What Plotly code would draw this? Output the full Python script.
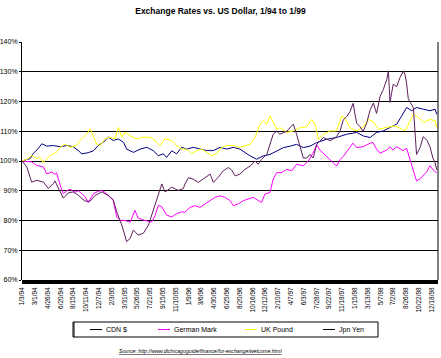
import plotly.graph_objects as go

# ---- data (trading-day index since 1/3/94, value in % of 1/3/94 level) ----
tick_labels = ["1/3/94", "3/1/94", "4/26/94", "6/20/94", "8/15/94", "10/11/94", "12/7/94",
               "2/3/95", "3/31/95", "5/26/95", "7/21/95", "9/15/95", "11/10/95", "1/9/96",
               "3/6/96", "4/30/96", "6/25/96", "8/20/96", "10/16/96", "12/12/96", "2/10/97",
               "4/7/97", "6/3/97", "7/28/97", "9/22/97", "11/18/97", "1/15/98", "3/13/98",
               "5/7/98", "7/2/98", "8/26/98", "10/22/98", "12/18/98"]
tick_step = 40  # trading days between labels

day_cdn = [0, 25, 35, 51, 62, 77, 98, 119, 140, 160, 176, 187, 207, 223, 238, 254, 270, 285,
           301, 317, 327, 348, 369, 390, 410, 426, 442, 452, 468, 483, 499, 515, 535, 556,
           577, 598, 619, 640, 660, 681, 713, 733, 754, 775, 796, 817, 838, 858, 879, 900,
           921, 952, 983, 1015, 1046, 1067, 1088, 1108, 1129, 1150, 1171, 1187, 1202, 1218,
           1233, 1254, 1275, 1291, 1296]
cdn = [100, 100.8, 102.5, 104.2, 105.8, 105, 105.2, 104.8, 105.2, 104.8, 103.5, 102.4, 102.8,
       103.4, 105.2, 106.3, 108, 106.9, 107.4, 106.3, 104, 102.9, 104, 104.6, 103.5, 101.8,
       102.4, 101.2, 103.4, 102.4, 104.6, 104, 104.6, 104, 103.5, 103.5, 104.6, 104, 104.6,
       104, 101.7, 100.6, 101.7, 102.2, 103.4, 104.5, 105, 105.6, 104.5, 105, 106.2, 107.3,
       107.9, 109, 109.6, 108.4, 107.9, 109.6, 110.1, 111.2, 112.4, 115.2, 118, 116.9, 118,
       117.4, 116.9, 117.4, 115.7]

day_dem = [0, 30, 46, 67, 77, 93, 103, 108, 119, 129, 140, 150, 166, 176, 187, 197, 207, 223,
           238, 249, 259, 275, 285, 296, 306, 322, 338, 353, 363, 384, 405, 416, 426, 437, 452,
           468, 483, 499, 509, 525, 541, 556, 572, 588, 603, 619, 634, 650, 660, 676, 692, 707,
           723, 738, 749, 759, 775, 785, 796, 812, 827, 843, 858, 879, 895, 909, 921, 931, 952,
           969, 983, 994, 1004, 1019, 1034, 1046, 1066, 1088, 1097, 1108, 1119, 1140, 1150,
           1159, 1171, 1191, 1202, 1213, 1223, 1233, 1244, 1254, 1265, 1275, 1285, 1296]
dem = [100, 99.7, 98.5, 98, 95.7, 96.3, 95.5, 96, 92, 89, 90, 90.5, 89.5, 90, 89, 88, 86, 89,
       89.8, 90.1, 89.5, 87.9, 86.8, 81.2, 80.1, 80, 79.4, 83.4, 80.8, 80, 79.5, 81.7, 85.1,
       84.6, 81.8, 81.2, 82.3, 82.9, 82.8, 84.4, 85, 84.4, 85.6, 86.7, 87.8, 88.3, 87.8, 86.7,
       85, 85.6, 86.7, 87.2, 87.8, 86.7, 86.1, 88.9, 89.4, 93.9, 96.1, 96.1, 97.2, 96.7, 98.9,
       98.4, 100, 102.6, 105.5, 103.7, 101.5, 99.5, 98.3, 100.5, 101.5, 103.7, 106, 104.5,
       104.8, 106, 106.2, 104, 102.6, 103.7, 104.8, 103.7, 104.8, 103.5, 104.3, 100.3, 97,
       93.3, 94, 95.2, 96.4, 98.4, 97, 96]

day_gbp = [0, 20, 30, 46, 56, 66, 88, 108, 119, 134, 150, 171, 181, 202, 213, 223, 233, 244,
           259, 275, 291, 301, 312, 322, 338, 358, 379, 400, 416, 431, 447, 468, 483, 499, 515,
           530, 546, 562, 577, 593, 608, 624, 640, 660, 681, 692, 713, 728, 744, 754, 765, 775,
           785, 796, 806, 827, 848, 869, 890, 905, 916, 926, 942, 963, 983, 999, 1009, 1025,
           1046, 1067, 1082, 1098, 1114, 1140, 1166, 1181, 1197, 1213, 1223, 1238, 1254, 1275,
           1291, 1296]
gbp = [100, 100.8, 101.9, 100.8, 101.2, 99.5, 101.9, 102.9, 104.6, 105.7, 104.6, 105.2, 106.9,
       109.1, 110.8, 108, 105.7, 105.2, 107.4, 108, 107.4, 111.3, 108, 109.7, 108.5, 107.4, 108,
       108, 106.9, 105.2, 107.4, 106.9, 105.2, 104, 104, 102.4, 103.5, 104, 102.9, 101.8, 102.4,
       104.6, 105.2, 105.2, 104.6, 105, 105.6, 107.9, 112.4, 113.5, 112.4, 115.2, 112.9, 110.7,
       111.2, 109.6, 110.1, 111.2, 111.5, 114, 112.4, 107.3, 109, 110.1, 110.1, 115.2, 114.5,
       111.2, 110.1, 111.5, 114, 113.2, 110.7, 111.2, 111.8, 111, 110.1, 113.5, 115.7, 114.8,
       112.9, 114, 113.5, 111.2]

day_jpy = [0, 15, 25, 30, 46, 67, 82, 98, 103, 113, 129, 145, 160, 176, 197, 213, 228, 249,
           270, 285, 296, 312, 319, 327, 338, 348, 363, 379, 395, 410, 421, 437, 447, 468, 488,
           504, 509, 520, 535, 551, 572, 588, 598, 613, 629, 645, 655, 666, 681, 697, 713, 728,
           738, 749, 765, 775, 785, 796, 806, 827, 848, 858, 869, 879, 890, 900, 910, 921, 942,
           963, 983, 994, 1004, 1015, 1025, 1035, 1040, 1046, 1056, 1066, 1077, 1088, 1098, 1108,
           1119, 1129, 1140, 1145, 1150, 1160, 1171, 1181, 1192, 1197, 1202, 1207, 1213, 1223,
           1228, 1233, 1244, 1254, 1265, 1275, 1284, 1291, 1296]
jpy = [100, 98, 94.6, 92.9, 93.5, 92.9, 90.8, 92.4, 93.3, 91, 87.5, 89.3, 89.6, 88.5, 86.5, 86.5,
       88.4, 89.6, 88.4, 87, 82.9, 78.4, 75.5, 72.9, 74, 76.8, 75.1, 75.7, 78.4, 83.4, 86.8, 92.3,
       89.6, 91.2, 90.1, 90.7, 92.2, 94.4, 93.9, 92.8, 94.4, 95.6, 92.8, 94.5, 96.7, 97.8, 97, 95,
       95.6, 97.2, 98.3, 100, 98.9, 100.6, 102.2, 105.6, 109, 110, 109, 110, 112.4, 109, 104.5,
       101, 101, 102.2, 101, 105.6, 107.9, 106.8, 108.2, 110.1, 113.8, 115, 116.6, 119.4, 116,
       112.7, 111.6, 109.9, 112.7, 117.2, 119.5, 116, 121.7, 124, 127.4, 130.3, 119.7, 125.8,
       125, 128, 130.3, 129, 126, 121, 119.7, 118, 110, 102.2, 104.5, 108.2, 107, 104.8, 101,
       99.4, 97]

series = [
    ("CDN $", day_cdn, cdn, "#000080"),
    ("German Mark", day_dem, dem, "#FF00FF"),
    ("UK Pound", day_gbp, gbp, "#FFFF00"),
    ("Jpn Yen", day_jpy, jpy, "#5E1F5E"),
]

FONT = "Liberation Sans, Arial, sans-serif"
fig = go.Figure()
for name, xs, ys, col in series:
    fig.add_trace(go.Scatter(x=xs, y=ys, name=name, mode="lines",
                             line=dict(color=col, width=1), showlegend=False))

tickvals = [i * tick_step for i in range(len(tick_labels))]

W, H = 441, 358
L, R, T, B = 22, 3, 42, 78
pw, ph = W - L - R, H - T - B

fig.update_layout(
    width=W, height=H,
    margin=dict(l=L, r=R, t=T, b=B, pad=0, autoexpand=False),
    paper_bgcolor="white", plot_bgcolor="white",
    font=dict(family=FONT, size=7, color="black"),
    title=dict(text="<b>Exchange Rates vs. US Dollar, 1/94 to 1/99</b>",
               x=0.5, xanchor="center", y=1 - 11 / H, yanchor="middle",
               font=dict(family=FONT, size=8.5, color="black")),
    xaxis=dict(range=[0, 1300], tickmode="array", tickvals=tickvals, ticktext=tick_labels,
               tickangle=-90, showgrid=False, zeroline=False, showline=False,
               ticks="", tickfont=dict(size=6.5), ticklabelstandoff=5, automargin=False),
    yaxis=dict(range=[60, 140], dtick=10, ticksuffix="%", showgrid=True,
               gridcolor="black", gridwidth=1, zeroline=False, showline=True,
               linecolor="black", linewidth=1, ticks="outside", ticklen=2,
               tickcolor="black", tickfont=dict(size=7), automargin=False),
)

shapes = []
# right border
shapes.append(dict(type="line", xref="paper", yref="paper", x0=1, x1=1, y0=0, y1=1,
                   line=dict(color="black", width=1)))
# thick category axis band
shapes.append(dict(type="rect", xref="paper", yref="paper", x0=0, x1=1, y0=0, y1=-4 / ph,
                   line=dict(width=0), fillcolor="black"))

# legend box (manual)
lx0, lx1, ly0, ly1 = 73, 378, 322, 337
def px(x):
    return (x - L) / pw
def py(y):
    return (H - B - y) / ph

shapes.append(dict(type="rect", xref="paper", yref="paper", x0=px(lx0), x1=px(lx1),
                   y0=py(ly1), y1=py(ly0), line=dict(color="black", width=1),
                   fillcolor="white"))
shapes.append(dict(type="line", xref="paper", yref="paper", x0=px(lx0 + 1), x1=px(lx0 + 1),
                   y0=py(ly1), y1=py(ly0), line=dict(color="black", width=1)))
leg_pos = [90, 158, 245, 323]
annotations = []
for (name, xs, ys, col), lxp in zip(series, leg_pos):
    lc = "black" if name in ("CDN $", "Jpn Yen") else col
    shapes.append(dict(type="line", xref="paper", yref="paper", x0=px(lxp), x1=px(lxp + 12),
                       y0=py(329.5), y1=py(329.5), line=dict(color=lc, width=1)))
    annotations.append(dict(xref="paper", yref="paper", x=px(lxp + 14), y=py(329.5),
                            xanchor="left", yanchor="middle", showarrow=False,
                            text=name, font=dict(size=7, color="black")))

annotations.append(dict(xref="paper", yref="paper", x=px(200), y=py(351), xanchor="center",
                        yanchor="middle", showarrow=False,
                        text="<i><u>Source: http://www.dtchicagoguide/finance/for-exchange/welcome.html</u></i>",
                        font=dict(size=5.2, color="black")))

fig.update_layout(shapes=shapes, annotations=annotations)
fig.write_html("out.html", config={"displayModeBar": False},
               post_script="document.body.style.margin='0';document.body.style.padding='0';")
